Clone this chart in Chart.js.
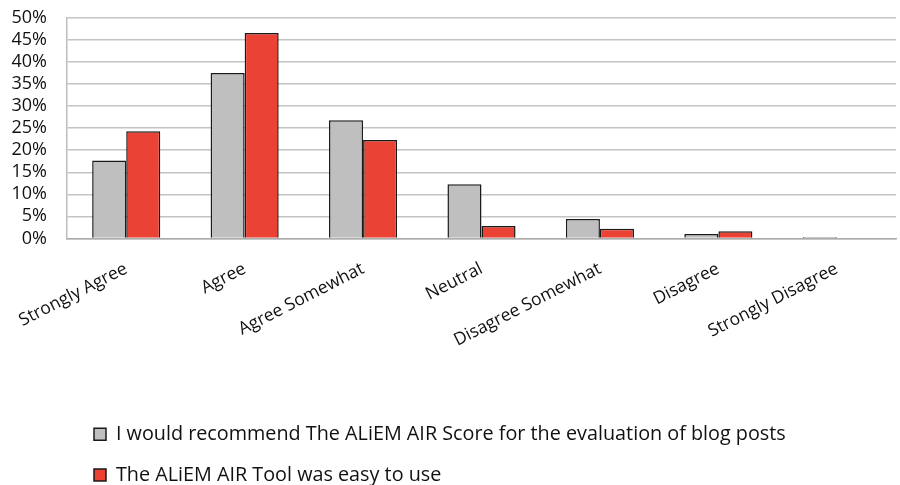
<!DOCTYPE html>
<html>
<head>
<meta charset="utf-8">
<script src="https://cdn.jsdelivr.net/npm/chart.js@4/dist/chart.umd.min.js"></script>
<style>
  html, body { margin: 0; padding: 0; background: #ffffff; }
  #wrap { width: 900px; height: 485px; position: relative; }
</style>
</head>
<body>
<div id="wrap"><canvas id="chart"></canvas></div>
<script>
// Survey response categories
const categories = [
  'Strongly Agree', 'Agree', 'Agree Somewhat', 'Neutral',
  'Disagree Somewhat', 'Disagree', 'Strongly Disagree'
];

// Percent of respondents per category
const recommendValues = [17.7, 37.5, 26.8, 12.3, 4.4, 1.0, 0.3];
const easyToUseValues = [24.3, 46.6, 22.3, 2.8, 2.2, 1.6, 0];

const seriesNames = [
  'I would recommend The ALiEM AIR Score for the evaluation of blog posts',
  'The ALiEM AIR Tool was easy to use'
];

// Y axis ticks: 0% .. 50% in steps of 5
const yTicks = [0, 5, 10, 15, 20, 25, 30, 35, 40, 45, 50];

const FONT = '"Open Sans", Lato, sans-serif';

// Shift the legend block to sit under the plot, left aligned
const legendShift = {
  id: 'legendShift',
  afterLayout(chart) {
    const lg = chart.legend;
    if (!lg) return;
    lg.left += 73;
    lg.right += 73;
    lg.top += 10;
    lg.bottom += 10;
  }
};

new Chart(document.getElementById('chart'), {
  type: 'bar',
  data: {
    labels: categories,
    datasets: [
      {
        label: seriesNames[0],
        data: recommendValues,
        backgroundColor: '#bfbfbf',
        borderColor: '#1a1a1a',
        borderWidth: 1.5,
        categoryPercentage: 0.575,
        barPercentage: 1.0
      },
      {
        label: seriesNames[1],
        data: easyToUseValues,
        backgroundColor: '#ea4335',
        borderColor: '#1a1a1a',
        borderWidth: 1.5,
        categoryPercentage: 0.575,
        barPercentage: 1.0
      }
    ]
  },
  options: {
    responsive: true,
    maintainAspectRatio: false,
    animation: false,
    layout: { padding: { top: 18, right: 4, left: 0, bottom: 0 } },
    scales: {
      x: {
        grid: { display: false, drawTicks: false },
        border: { display: true, color: '#ababab', width: 1.5 },
        ticks: {
          autoSkip: false,
          minRotation: 27,
          maxRotation: 27,
          padding: 20,
          color: '#111111',
          font: { family: FONT, size: 17.5 }
        },
        afterFit(scale) {
          scale.height = 155;
          scale.paddingLeft = 0;
          scale.paddingRight = 0;
        }
      },
      y: {
        min: 0,
        max: 50,
        afterBuildTicks(scale) { scale.ticks = yTicks.map(v => ({ value: v })); },
        grid: { color: '#c4c4c4', lineWidth: 1.5, drawTicks: false },
        border: { display: true, color: '#bdbdbd', width: 1.5 },
        ticks: {
          autoSkip: false,
          padding: 20,
          color: '#111111',
          font: { family: FONT, size: 18 },
          callback: v => v + '%'
        },
        afterFit(scale) {
          scale.width = 67;
          scale.paddingTop = 0;
          scale.paddingBottom = 0;
        }
      }
    },
    plugins: {
      legend: {
        position: 'bottom',
        align: 'start',
        labels: {
          boxWidth: 12,
          boxHeight: 12,
          padding: 21,
          color: '#111111',
          font: { family: FONT, size: 19.8 }
        }
      },
      tooltip: { enabled: false }
    }
  },
  plugins: [legendShift]
});
</script>
</body>
</html>
